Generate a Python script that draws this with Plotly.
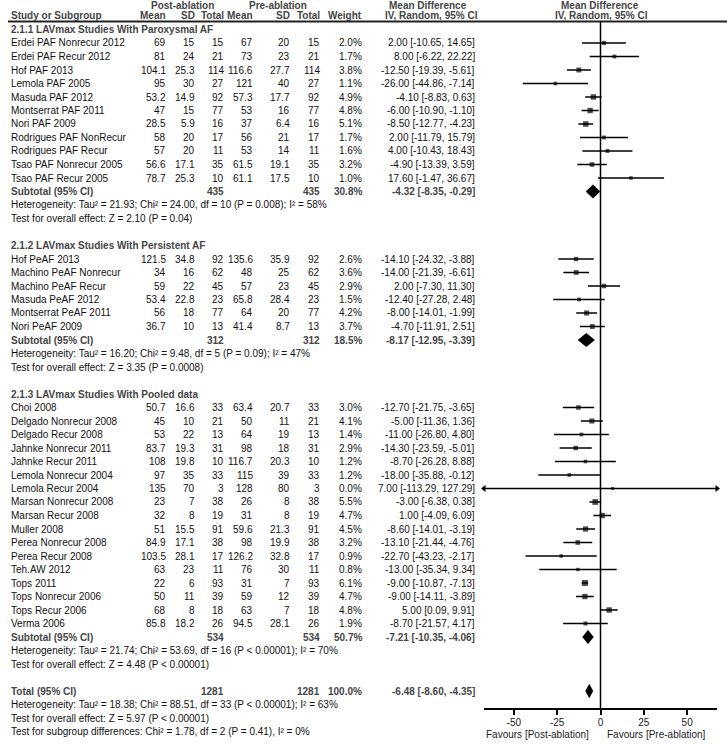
import plotly.graph_objects as go

W, H = 727, 744
ROW0, STEP = 43.0, 13.5
FONT = "Liberation Sans, Arial, Helvetica, sans-serif"
GRAY = "#454545"
BLACK = "#111111"

# ---------------- data ----------------
g1_title = "2.1.1 LAVmax Studies With Paroxysmal AF"
g1_names = ["Erdei PAF Nonrecur 2012", "Erdei PAF Recur 2012", "Hof PAF 2013", "Lemola PAF 2005",
            "Masuda PAF 2012", "Montserrat PAF 2011", "Nori PAF 2009", "Rodrigues PAF NonRecur",
            "Rodrigues PAF Recur", "Tsao PAF Nonrecur 2005", "Tsao PAF Recur 2005"]
g1_post_mean = [69, 81, 104.1, 95, 53.2, 47, 28.5, 58, 57, 56.6, 78.7]
g1_post_sd = [15, 24, 25.3, 30, 14.9, 15, 5.9, 20, 20, 17.1, 25.3]
g1_n = [15, 21, 114, 27, 92, 77, 16, 17, 11, 35, 10]
g1_pre_mean = [67, 73, 116.6, 121, 57.3, 53, 37, 56, 53, 61.5, 61.1]
g1_pre_sd = [20, 23, 27.7, 40, 17.7, 16, 6.4, 21, 14, 19.1, 17.5]
g1_weight = [2.0, 1.7, 3.8, 1.1, 4.9, 4.8, 5.1, 1.7, 1.6, 3.2, 1.0]
g1_md = [2.00, 8.00, -12.50, -26.00, -4.10, -6.00, -8.50, 2.00, 4.00, -4.90, 17.60]
g1_lo = [-10.65, -6.22, -19.39, -44.86, -8.83, -10.90, -12.77, -11.79, -10.43, -13.39, -1.47]
g1_hi = [14.65, 22.22, -5.61, -7.14, 0.63, -1.10, -4.23, 15.79, 18.43, 3.59, 36.67]
g1_sub = [435, 435, 30.8, -4.32, -8.35, -0.29]
g1_het = "Heterogeneity: Tau² = 21.93; Chi² = 24.00, df = 10 (P = 0.008); I² = 58%"
g1_test = "Test for overall effect: Z = 2.10 (P = 0.04)"

g2_title = "2.1.2 LAVmax Studies With Persistent AF"
g2_names = ["Hof PeAF 2013", "Machino PeAF Nonrecur", "Machino PeAF Recur", "Masuda PeAF 2012",
            "Montserrat PeAF 2011", "Nori PeAF 2009"]
g2_post_mean = [121.5, 34, 59, 53.4, 56, 36.7]
g2_post_sd = [34.8, 16, 22, 22.8, 18, 10]
g2_n = [92, 62, 45, 23, 77, 13]
g2_pre_mean = [135.6, 48, 57, 65.8, 64, 41.4]
g2_pre_sd = [35.9, 25, 23, 28.4, 20, 8.7]
g2_weight = [2.6, 3.6, 2.9, 1.5, 4.2, 3.7]
g2_md = [-14.10, -14.00, 2.00, -12.40, -8.00, -4.70]
g2_lo = [-24.32, -21.39, -7.30, -27.28, -14.01, -11.91]
g2_hi = [-3.88, -6.61, 11.30, 2.48, -1.99, 2.51]
g2_sub = [312, 312, 18.5, -8.17, -12.95, -3.39]
g2_het = "Heterogeneity: Tau² = 16.20; Chi² = 9.48, df = 5 (P = 0.09); I² = 47%"
g2_test = "Test for overall effect: Z = 3.35 (P = 0.0008)"

g3_title = "2.1.3 LAVmax Studies With Pooled data"
g3_names = ["Choi 2008", "Delgado Nonrecur 2008", "Delgado Recur 2008", "Jahnke Nonrecur 2011",
            "Jahnke Recur 2011", "Lemola Nonrecur 2004", "Lemola Recur 2004", "Marsan Nonrecur 2008",
            "Marsan Recur 2008", "Muller 2008", "Perea Nonrecur 2008", "Perea Recur 2008",
            "Teh.AW 2012", "Tops 2011", "Tops Nonrecur 2006", "Tops Recur 2006", "Verma 2006"]
g3_post_mean = [50.7, 45, 53, 83.7, 108, 97, 135, 23, 32, 51, 84.9, 103.5, 63, 22, 50, 68, 85.8]
g3_post_sd = [16.6, 10, 22, 19.3, 19.8, 35, 70, 7, 8, 15.5, 17.1, 28.1, 23, 6, 11, 8, 18.2]
g3_n = [33, 21, 13, 31, 10, 33, 3, 38, 19, 91, 38, 17, 11, 93, 39, 18, 26]
g3_pre_mean = [63.4, 50, 64, 98, 116.7, 115, 128, 26, 31, 59.6, 98, 126.2, 76, 31, 59, 63, 94.5]
g3_pre_sd = [20.7, 11, 19, 18, 20.3, 39, 80, 8, 8, 21.3, 19.9, 32.8, 30, 7, 12, 7, 28.1]
g3_weight = [3.0, 4.1, 1.4, 2.9, 1.2, 1.2, 0.0, 5.5, 4.7, 4.5, 3.2, 0.9, 0.8, 6.1, 4.7, 4.8, 1.9]
g3_md = [-12.70, -5.00, -11.00, -14.30, -8.70, -18.00, 7.00, -3.00, 1.00, -8.60, -13.10, -22.70,
         -13.00, -9.00, -9.00, 5.00, -8.70]
g3_lo = [-21.75, -11.36, -26.80, -23.59, -26.28, -35.88, -113.29, -6.38, -4.09, -14.01, -21.44,
         -43.23, -35.34, -10.87, -14.11, 0.09, -21.57]
g3_hi = [-3.65, 1.36, 4.80, -5.01, 8.88, -0.12, 127.29, 0.38, 6.09, -3.19, -4.76, -2.17, 9.34,
         -7.13, -3.89, 9.91, 4.17]
g3_sub = [534, 534, 50.7, -7.21, -10.35, -4.06]
g3_het = "Heterogeneity: Tau² = 21.74; Chi² = 53.69, df = 16 (P < 0.00001); I² = 70%"
g3_test = "Test for overall effect: Z = 4.48 (P < 0.00001)"

total = [1281, 1281, 100.0, -6.48, -8.60, -4.35]
total_het = "Heterogeneity: Tau² = 18.38; Chi² = 88.51, df = 33 (P < 0.00001); I² = 63%"
total_test = "Test for overall effect: Z = 5.97 (P < 0.00001)"
subgroup_test = "Test for subgroup differences: Chi² = 1.78, df = 2 (P = 0.41), I² = 0%"

tick_vals = [-50, -25, 0, 25, 50]
tick_text = ["-50", "-25", "0", "25", "50"]
x_range = [-67.2, 67.2]

groups = [
    (g1_title, g1_names, g1_post_mean, g1_post_sd, g1_n, g1_pre_mean, g1_pre_sd, g1_weight,
     g1_md, g1_lo, g1_hi, g1_sub, g1_het, g1_test),
    (g2_title, g2_names, g2_post_mean, g2_post_sd, g2_n, g2_pre_mean, g2_pre_sd, g2_weight,
     g2_md, g2_lo, g2_hi, g2_sub, g2_het, g2_test),
    (g3_title, g3_names, g3_post_mean, g3_post_sd, g3_n, g3_pre_mean, g3_pre_sd, g3_weight,
     g3_md, g3_lo, g3_hi, g3_sub, g3_het, g3_test),
]

# ---------------- layout constants ----------------
X_NAME = 10
X_PM, X_PSD, X_PN = 167, 196, 225
X_RM, X_RSD, X_RN = 254, 291, 321
X_W, X_CI = 363, 476
AX_LEFT, AX_RIGHT, AX_Y = 484, 717, 708

annotations = []


def py(row):
    return 1 - (ROW0 + STEP * row) / H


def txt(xpx, y, s, anchor="left", bold=False, color=BLACK, paper_y=None):
    yy = py(y) if paper_y is None else paper_y
    annotations.append(dict(
        x=xpx / W, y=yy, xref="paper", yref="paper",
        text=("<b>%s</b>" % s) if bold else s, showarrow=False,
        xanchor=anchor, yanchor="middle", borderpad=0,
        font=dict(family=FONT, size=10, color=color)))


def fmt(v):
    return ("%g" % v)


# headers
hdr_y = 1 - 5.5 / H
txt(182, None, "Post-ablation", "center", True, GRAY, hdr_y)
txt(278, None, "Pre-ablation", "center", True, GRAY, hdr_y)
txt(428, None, "Mean Difference", "center", True, GRAY, hdr_y)
txt(600, None, "Mean Difference", "center", True, GRAY, hdr_y)
txt(X_NAME, -2, "Study or Subgroup", "left", True, GRAY)
for xp, s in [(X_PM, "Mean"), (X_PSD, "SD"), (X_PN, "Total"), (X_RM, "Mean"),
              (X_RSD, "SD"), (X_RN, "Total"), (X_W, "Weight")]:
    txt(xp, -2, s, "right", True, GRAY)
txt(431, -2, "IV, Random, 95% CI", "center", True, GRAY)
txt(601, -2, "IV, Random, 95% CI", "center", True, GRAY)

sq_x, sq_y, sq_s = [], [], []
ln_x, ln_y = [], []
arr_l_x, arr_l_y, arr_r_x, arr_r_y = [], [], [], []
diamonds = []

r = -1
for (title, names, pm, psd, n, rm, rsd, wt, md, lo, hi, sub, het, test) in groups:
    txt(X_NAME, r, title, "left", True, GRAY)
    r += 1
    for i in range(len(names)):
        txt(X_NAME, r, names[i])
        txt(X_PM, r, fmt(pm[i]), "right")
        txt(X_PSD, r, fmt(psd[i]), "right")
        txt(X_PN, r, fmt(n[i]), "right")
        txt(X_RM, r, fmt(rm[i]), "right")
        txt(X_RSD, r, fmt(rsd[i]), "right")
        txt(X_RN, r, fmt(n[i]), "right")
        txt(X_W, r, "%.1f%%" % wt[i], "right")
        txt(X_CI, r, "%.2f [%.2f, %.2f]" % (md[i], lo[i], hi[i]), "right")
        sq_x.append(md[i]); sq_y.append(r); sq_s.append(3 + 0.5 * wt[i])
        ln_x += [lo[i], hi[i], None]; ln_y += [r, r, None]
        if lo[i] < x_range[0]:
            arr_l_x.append(x_range[0]); arr_l_y.append(r)
        if hi[i] > x_range[1]:
            arr_r_x.append(x_range[1]); arr_r_y.append(r)
        r += 1
    txt(X_NAME, r, "Subtotal (95% CI)", "left", True, GRAY)
    txt(X_PN, r, fmt(sub[0]), "right", True, GRAY)
    txt(X_RN, r, fmt(sub[1]), "right", True, GRAY)
    txt(X_W, r, "%.1f%%" % sub[2], "right", True, GRAY)
    txt(X_CI, r, "%.2f [%.2f, %.2f]" % (sub[3], sub[4], sub[5]), "right", True, GRAY)
    diamonds.append((sub[3], sub[4], sub[5], r))
    r += 1
    txt(X_NAME, r, het)
    r += 1
    txt(X_NAME, r, test)
    r += 1
    r += 1

txt(X_NAME, r, "Total (95% CI)", "left", True, GRAY)
txt(X_PN, r, fmt(total[0]), "right", True, GRAY)
txt(X_RN, r, fmt(total[1]), "right", True, GRAY)
txt(X_W, r, "%.1f%%" % total[2], "right", True, GRAY)
txt(X_CI, r, "%.2f [%.2f, %.2f]" % (total[3], total[4], total[5]), "right", True, GRAY)
diamonds.append((total[3], total[4], total[5], r))
txt(X_NAME, r + 1, total_het)
txt(X_NAME, r + 2, total_test)
txt(X_NAME, r + 3, subgroup_test)

fav_y = 1 - 734.5 / H
txt(590, None, "Favours [Post-ablation]", "right", False, "#222", fav_y)
txt(606, None, "Favours [Pre-ablation]", "left", False, "#222", fav_y)

fig = go.Figure()
fig.add_trace(go.Scatter(x=ln_x, y=ln_y, mode="lines", line=dict(color="black", width=1.5),
                         hoverinfo="skip", showlegend=False))
fig.add_trace(go.Scatter(x=sq_x, y=sq_y, mode="markers",
                         marker=dict(symbol="square", size=sq_s, color="black", line=dict(width=0)),
                         showlegend=False))
fig.add_trace(go.Scatter(x=arr_l_x, y=arr_l_y, mode="markers", cliponaxis=False,
                         marker=dict(symbol="triangle-left", size=6, color="black"),
                         showlegend=False))
fig.add_trace(go.Scatter(x=arr_r_x, y=arr_r_y, mode="markers", cliponaxis=False,
                         marker=dict(symbol="triangle-right", size=6, color="black"),
                         showlegend=False))
for (m, lo_, hi_, rr) in diamonds:
    fig.add_trace(go.Scatter(x=[lo_, m, hi_, m, lo_], y=[rr, rr - 0.5, rr, rr + 0.5, rr],
                             mode="lines", fill="toself", fillcolor="black",
                             line=dict(color="black", width=0.5), showlegend=False))

y_bottom_row = (AX_Y - ROW0) / STEP
y_top_row = (0 - ROW0) / STEP

shapes = [
    dict(type="line", xref="paper", yref="paper", x0=8 / W, x1=1.0,
         y0=1 - 21.5 / H, y1=1 - 21.5 / H, line=dict(color="#222", width=2)),
    dict(type="line", xref="x", yref="paper", x0=0, x1=0,
         y0=1 - AX_Y / H, y1=1 - 21.5 / H, line=dict(color="black", width=1.5)),
]

fig.update_layout(
    width=W, height=H, margin=dict(l=0, r=0, t=0, b=0, pad=0),
    paper_bgcolor="white", plot_bgcolor="white",
    showlegend=False, annotations=annotations, shapes=shapes,
    xaxis=dict(domain=[AX_LEFT / W, AX_RIGHT / W], range=x_range, tickvals=tick_vals,
               ticktext=tick_text, ticks="outside", ticklen=5, tickwidth=1.5, tickcolor="black",
               ticklabelstandoff=-1,
               showline=True, linecolor="black", linewidth=1.5, showgrid=False, zeroline=False,
               tickfont=dict(family=FONT, size=10, color="#222"), fixedrange=True),
    yaxis=dict(domain=[1 - AX_Y / H, 1], range=[y_bottom_row, y_top_row], visible=False,
               showgrid=False, zeroline=False, fixedrange=True),
)

fig.write_html("out.html", config={"displayModeBar": False},
               post_script="document.body.style.margin='0px';document.body.style.overflow='hidden';")
